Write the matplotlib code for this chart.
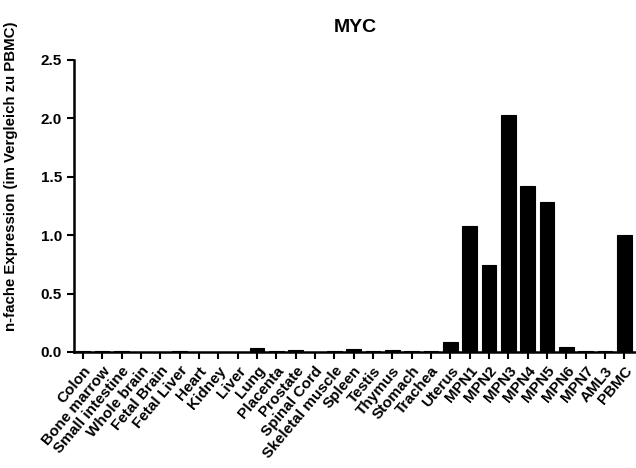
import numpy as np
import matplotlib
matplotlib.use('Agg')
import matplotlib.pyplot as plt

plt.rcParams['font.family'] = ['Liberation Sans', 'DejaVu Sans']
plt.rcParams['font.weight'] = 'bold'

categories = ['Colon', 'Bone marrow', 'Small intestine', 'Whole brain', 'Fetal Brain',
              'Fetal Liver', 'Heart', 'Kidney', 'Liver', 'Lung', 'Placenta', 'Prostate',
              'Spinal Cord', 'Skeletal muscle', 'Spleen', 'Testis', 'Thymus', 'Stomach',
              'Trachea', 'Uterus', 'MPN1', 'MPN2', 'MPN3', 'MPN4', 'MPN5', 'MPN6',
              'MPN7', 'AML3', 'PBMC']
values = [0.008, 0.008, 0.01, 0.003, 0.003,
          0.012, 0.003, 0.003, 0.003, 0.03, 0.01, 0.018,
          0.003, 0.004, 0.025, 0.01, 0.02, 0.01,
          0.01, 0.088, 1.08, 0.745, 2.03, 1.42, 1.28, 0.04,
          0.01, 0.01, 1.0]
yticks = [0.0, 0.5, 1.0, 1.5, 2.0, 2.5]

fig = plt.figure(figsize=(6.36, 4.68), dpi=100)
ax = fig.add_axes([0.116, 0.248, 0.884, 0.624])

x = np.arange(len(categories))
ax.bar(x, values, width=0.75, color='black', edgecolor='black', linewidth=0.8)

ax.set_xlim(-0.47, 28.6)
ax.set_ylim(0, 2.5)
ax.set_yticks(yticks)
ax.set_yticklabels([f'{v:.1f}' for v in yticks], fontsize=11, fontweight='bold')
ax.set_xticks(x)
ax.set_xticklabels(categories, rotation=50, ha='right', rotation_mode='anchor',
                   fontsize=11, fontweight='bold')

for side in ['top', 'right']:
    ax.spines[side].set_visible(False)
for side in ['left', 'bottom']:
    ax.spines[side].set_linewidth(1.8)
ax.tick_params(axis='both', direction='out', width=1.5, length=5)

ax.set_title('MYC', fontsize=14, fontweight='bold', pad=20)
ax.set_ylabel('n-fache Expression (im Vergleich zu PBMC)', fontsize=10.8,
              fontweight='bold')
ax.yaxis.set_label_coords(-0.1, 0.6)

fig.savefig('out.png', dpi=100)
